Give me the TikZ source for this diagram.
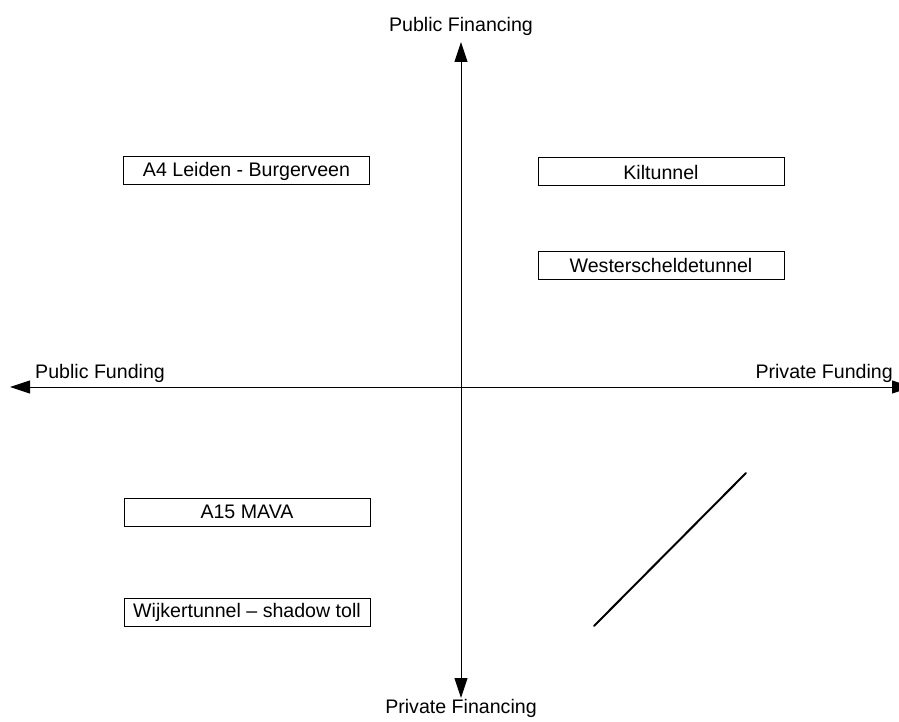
\documentclass[tikz,border=0pt]{standalone}
\usepackage{fontspec}
\setmainfont{Liberation Sans}
\usetikzlibrary{arrows.meta}
\begin{document}
\begin{tikzpicture}[x=1pt,y=-1pt,
  axis/.style={line width=1pt,{Triangle[length=20pt,width=13pt]}-{Triangle[length=20pt,width=13pt]}},
  projbox/.style={draw,line width=1pt,minimum width=246pt,minimum height=28pt,inner sep=0pt,font=\fontsize{19.6pt}{22pt}\selectfont},
  axlabel/.style={inner sep=0pt,anchor=base,font=\fontsize{19.6pt}{22pt}\selectfont}]
  \useasboundingbox (0,0) rectangle (899,722);
  % axis end points
  \coordinate (top) at (461,42);
  \coordinate (bottom) at (461,698);
  \coordinate (left) at (10,387);
  \coordinate (right) at (912,387);
  \draw[axis] (bottom) -- (top);
  \draw[axis] (left) -- (right);
  % axis labels
  \node[axlabel] (pubfin) at (461,32) {Public Financing};
  \node[axlabel] (privfin) at (461,713) {Private Financing};
  \node[axlabel,anchor=base west] (pubfund) at (35,378) {Public Funding};
  \node[axlabel,anchor=base east] (privfund) at (893,378) {Private Funding};
  % projects
  \node[projbox] (a4) at (246.5,171) {\raisebox{-1.5pt}{A4 Leiden - Burgerveen}};
  \node[projbox] (kil) at (661,172) {\raisebox{-1.5pt}{Kiltunnel}};
  \node[projbox] (west) at (661,265.5) {\raisebox{-1.5pt}{Westerscheldetunnel}};
  \node[projbox] (a15) at (247,512) {\raisebox{-1.5pt}{A15 MAVA}};
  \node[projbox] (wijk) at (247,612) {\raisebox{-1.5pt}{Wijkertunnel – shadow toll}};
  % empty quadrant stroke
  \coordinate (d1) at (594,626);
  \coordinate (d2) at (746,473);
  \draw[line width=2pt,line cap=round] (d1) -- (d2);
\end{tikzpicture}
\end{document}
